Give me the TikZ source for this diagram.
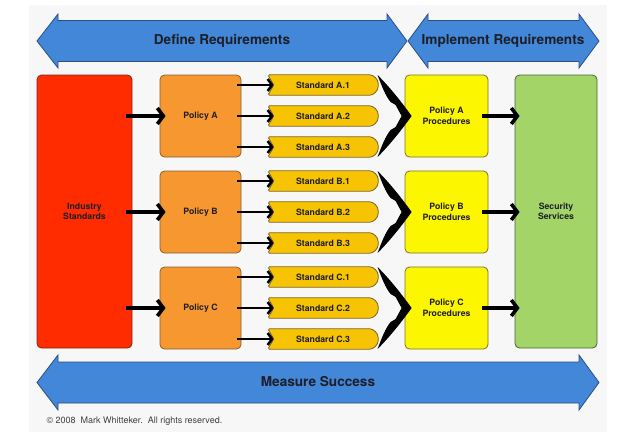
\documentclass[tikz,border=0pt]{standalone}
\usepackage{fontspec}
\setmainfont{TeX Gyre Heros}
\usetikzlibrary{arrows.meta,calc}
\definecolor{bgc}{HTML}{F7F7F7}
\definecolor{bluef}{HTML}{4287D8}
\definecolor{blued}{HTML}{2C4F80}
\definecolor{redf}{HTML}{FF2C00}
\definecolor{redd}{HTML}{7A2A1A}
\definecolor{orgf}{HTML}{F7972F}
\definecolor{orgd}{HTML}{8A5F30}
\definecolor{stdf}{HTML}{F6C402}
\definecolor{stdd}{HTML}{7E6420}
\definecolor{prof}{HTML}{FCF700}
\definecolor{prod}{HTML}{7A7630}
\definecolor{grnf}{HTML}{A2D467}
\definecolor{grnd}{HTML}{4B6338}
\definecolor{txt}{HTML}{1E1E28}
\pgfdeclarelayer{back}
\pgfdeclarelayer{mid}
\pgfsetlayers{back,mid,main}
\newcommand\stdshape[1]{%
  \draw[stdbox] (#1.north west) -- ($(#1.north east)+(-10,0)$)
    .. controls ($(#1.north east)+(-4.5,0)$) and ($(#1.east)+(0,-5.5)$) .. (#1.east)
    .. controls ($(#1.east)+(0,5.5)$) and ($(#1.south east)+(-4.5,0)$) .. ($(#1.south east)+(-10,0)$)
    -- (#1.south west) -- ($(#1.west)+(6,0)$) -- cycle;}
\newcommand\mergearrow[1]{%
  \fill[black] ($(#1.west)+(-27,-41)$)
    .. controls ($(#1.west)+(-15,-29)$) and ($(#1.west)+(-3,-14)$) .. ($(#1.west)+(7,0)$)
    .. controls ($(#1.west)+(-3,14)$) and ($(#1.west)+(-15,29)$) .. ($(#1.west)+(-27,41)$)
    .. controls ($(#1.west)+(-23,30)$) and ($(#1.west)+(-19,20)$) .. ($(#1.west)+(-14,14)$)
    -- ($(#1.west)+(-9,11)$) -- ($(#1.west)+(-3,0)$) -- ($(#1.west)+(-9,-11)$) -- ($(#1.west)+(-14,-14)$)
    .. controls ($(#1.west)+(-19,-20)$) and ($(#1.west)+(-23,-30)$) .. ($(#1.west)+(-27,-41)$) -- cycle;}
\begin{document}
\begin{tikzpicture}[x=1pt,y=-1pt,
  every node/.style={text=txt, font=\bfseries\fontsize{8.7}{10.5}\selectfont, align=center},
  bluearrow/.style={fill=bluef, draw=blued, line width=0.8pt, line join=miter},
  bluelabel/.style={font=\bfseries\fontsize{13.6}{16}\selectfont, text=txt},
  box/.style={rectangle, rounded corners=4.5pt, line width=0.8pt, inner sep=0pt},
  indbox/.style={box, fill=redf, draw=redd, minimum width=95pt, minimum height=273pt},
  polbox/.style={box, fill=orgf, draw=orgd, minimum width=81pt, minimum height=82pt},
  probox/.style={box, fill=prof, draw=prod, minimum width=83pt, minimum height=82pt},
  secbox/.style={box, fill=grnf, draw=grnd, minimum width=82pt, minimum height=273pt},
  stdtext/.style={rectangle, inner sep=0pt, minimum width=110pt, minimum height=20pt},
  stdbox/.style={fill=stdf, draw=stdd, line width=0.8pt, rounded corners=1.5pt},
  bigarr/.style={line width=3.6pt, -{Straight Barb[length=6pt,width=16pt]}},
  smallarr/.style={line width=2.6pt, -{Straight Barb[length=4.5pt,width=12pt]}}
]
\useasboundingbox (0,0) rectangle (630,432);
\begin{pgfonlayer}{back}
\fill[white] (0,0) rectangle (630,432);
\fill[bgc] (29,5) rectangle (607,432);
% blue arrows
\draw[bluearrow] (37,41) -- (58,14) -- (58,20.5) -- (387,20.5) -- (387,14) -- (407,41)
  -- (387,68) -- (387,61.5) -- (58,61.5) -- (58,68) -- cycle;
\draw[bluearrow] (408,41) -- (428,14) -- (428,20.5) -- (579,20.5) -- (579,14) -- (599,41)
  -- (579,68) -- (579,61.5) -- (428,61.5) -- (428,68) -- cycle;
\draw[bluearrow] (37,382.5) -- (58,355) -- (58,362) -- (579,362) -- (579,355) -- (599,382.5)
  -- (579,410) -- (579,403) -- (58,403) -- (58,410) -- cycle;
\end{pgfonlayer}

\node[bluelabel] (dreq) at (222,41) {Define Requirements};
\node[bluelabel] (ireq) at (503,41) {Implement Requirements};
\node[bluelabel] (msucc) at (318,382) {Measure Success};

\node[indbox] (ind) at (84.5,211.5) {Industry\\Standards};
\node[secbox] (sec) at (556,211.5) {Security\\Services};

\foreach \g [count=\i from 0] in {A,B,C} {
  \pgfmathsetmacro\yc{116+96*\i}
  \node[polbox] (p\g) at (200.5,\yc) {Policy \g};
  \node[probox] (pr\g) at (446.5,\yc) {Policy \g\\Procedures};
  \foreach \r [count=\j from -1] in {1,2,3} {
    \pgfmathsetmacro\ys{\yc+31*\j}
    \node[stdtext] (s\g\r) at (323,\ys) {Standard \g.\r};
    \begin{pgfonlayer}{mid}\stdshape{s\g\r}\end{pgfonlayer}
    \draw[smallarr] ($(p\g.east |- s\g\r.west)+(-4,0)$) -- ($(s\g\r.west)+(6,0)$);
  }
  \mergearrow{pr\g}
  \draw[bigarr] ($(ind.east |- p\g.west)+(-6,0)$) -- ($(p\g.west)+(6,0)$);
  \draw[bigarr] ($(pr\g.east)+(-6,0)$) -- ($(sec.west |- pr\g.east)+(5,0)$);
}

\node[font=\fontsize{9}{11}\selectfont, text=black!75, anchor=west] (copy) at (43,421)
  {\char"00A9{} 2008\ \ Mark Whitteker.\ \ All rights reserved.};
\end{tikzpicture}
\end{document}
